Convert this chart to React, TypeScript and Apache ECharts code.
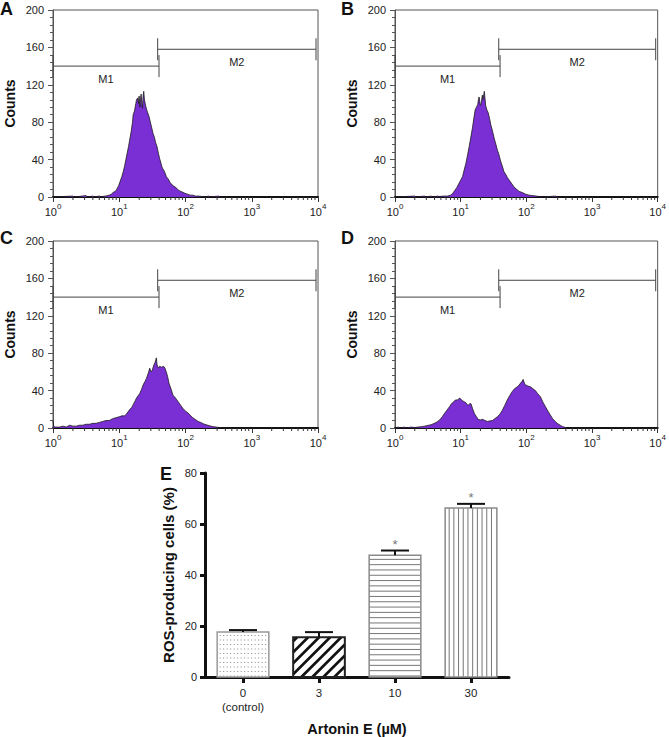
import React, { useEffect, useRef } from "react";
import * as echarts from "echarts";

const FONT = '"Liberation Sans", Arial, Helvetica, sans-serif';

// Histograms: [log10 fluorescence, counts]
const histA: number[][] = [
  [0, 0], [0.3, 1], [0.32, 0], [0.5, 1.5], [0.52, 0], [0.6, 1], [0.62, 0], [0.7, 1], [0.72, 0], [0.78, 1], [0.8, 1],
  [0.85, 2], [0.88, 3], [0.91, 5], [0.94, 6], [0.96, 8], [0.99, 12], [1.01, 16], [1.04, 22], [1.06, 27], [1.08, 33],
  [1.1, 40], [1.12, 47], [1.14, 54], [1.16, 62], [1.18, 70], [1.2, 80], [1.21, 88], [1.23, 92], [1.25, 100], [1.26, 104],
  [1.28, 106], [1.29, 100], [1.3, 108], [1.31, 96], [1.32, 104], [1.33, 110], [1.34, 100], [1.35, 95], [1.36, 108],
  [1.37, 113], [1.38, 104], [1.4, 97], [1.42, 92], [1.43, 90], [1.45, 86], [1.47, 80], [1.49, 74], [1.51, 68], [1.53, 64],
  [1.55, 58], [1.57, 54], [1.59, 47], [1.61, 41], [1.63, 36], [1.65, 31], [1.67, 29], [1.69, 26], [1.71, 22], [1.73, 20],
  [1.75, 18], [1.77, 15], [1.79, 14], [1.81, 12], [1.84, 11], [1.87, 9], [1.9, 7], [1.93, 6], [1.96, 5], [1.99, 4],
  [2.03, 3], [2.07, 2], [2.11, 2], [2.15, 1], [2.2, 1], [2.25, 0.5], [2.3, 0], [2.35, 1], [2.37, 0], [2.5, 1], [2.52, 0], [4, 0],
];
const histB: number[][] = [
  [0, 0], [0.3, 1], [0.32, 0], [0.45, 1], [0.47, 0], [0.55, 1], [0.57, 0], [0.65, 1], [0.67, 0.5], [0.75, 1], [0.8, 1],
  [0.85, 2], [0.88, 4], [0.91, 7], [0.94, 10], [0.97, 14], [1.0, 18], [1.03, 22], [1.05, 28], [1.08, 36], [1.1, 43],
  [1.13, 54], [1.15, 62], [1.18, 74], [1.2, 84], [1.22, 93], [1.24, 96], [1.26, 99], [1.27, 104], [1.28, 107], [1.3, 98],
  [1.31, 99], [1.33, 109], [1.34, 104], [1.36, 113], [1.37, 106], [1.38, 98], [1.4, 93], [1.42, 90], [1.44, 84], [1.46, 77],
  [1.48, 72], [1.51, 63], [1.53, 58], [1.56, 50], [1.58, 46], [1.61, 38], [1.63, 34], [1.66, 27], [1.68, 25], [1.71, 21],
  [1.74, 18], [1.77, 15], [1.81, 11], [1.84, 9], [1.89, 6], [1.93, 5], [1.99, 3], [2.04, 2], [2.09, 1.5], [2.15, 1],
  [2.2, 0.5], [2.25, 0], [2.45, 1], [2.47, 0], [4, 0],
];
const histC: number[][] = [
  [0, 8], [0.01, 2], [0.03, 1], [0.1, 1], [0.15, 2], [0.2, 1], [0.25, 3], [0.3, 2], [0.35, 2], [0.4, 3], [0.45, 3],
  [0.5, 4], [0.55, 4], [0.6, 5], [0.65, 5], [0.7, 6], [0.75, 7], [0.8, 8], [0.85, 8], [0.9, 10], [0.95, 11], [1.0, 12],
  [1.04, 13], [1.08, 13], [1.11, 15], [1.13, 17], [1.16, 20], [1.19, 22], [1.21, 25], [1.24, 29], [1.26, 32], [1.29, 35],
  [1.31, 37], [1.34, 42], [1.36, 46], [1.39, 50], [1.41, 53], [1.44, 59], [1.46, 64], [1.48, 60], [1.5, 62], [1.52, 67],
  [1.54, 70], [1.56, 75], [1.57, 68], [1.59, 64], [1.61, 66], [1.64, 65], [1.67, 66], [1.69, 64], [1.71, 60], [1.73, 55],
  [1.75, 48], [1.77, 44], [1.79, 40], [1.81, 35], [1.84, 33], [1.87, 30], [1.9, 27], [1.93, 24], [1.96, 21], [2.0, 18],
  [2.04, 16], [2.08, 13], [2.11, 11], [2.15, 9], [2.19, 7], [2.23, 6], [2.27, 4.5], [2.31, 3.5], [2.36, 2.5], [2.41, 1.5],
  [2.46, 1], [2.52, 0.4], [2.58, 0], [4, 0],
];
const histD: number[][] = [
  [0, 0], [0.05, 1], [0.07, 0], [0.15, 1], [0.17, 0], [0.25, 1], [0.3, 0.5], [0.35, 1], [0.4, 1.4], [0.45, 2], [0.5, 2.8],
  [0.55, 3.5], [0.6, 5], [0.64, 6.5], [0.68, 8.6], [0.72, 12], [0.755, 15.7], [0.79, 19], [0.83, 22.8], [0.86, 26],
  [0.895, 28], [0.92, 30], [0.956, 30], [0.98, 32], [1.006, 30.7], [1.03, 29], [1.057, 28], [1.08, 27], [1.1, 25],
  [1.117, 24.6], [1.14, 26], [1.157, 26], [1.18, 21], [1.208, 15.7], [1.24, 12], [1.27, 9], [1.3, 8.6], [1.333, 9.3],
  [1.37, 8], [1.409, 7], [1.44, 7.5], [1.484, 8], [1.52, 10], [1.56, 12], [1.6, 15], [1.635, 19], [1.67, 24], [1.71, 30],
  [1.75, 35], [1.786, 39], [1.82, 42], [1.862, 44], [1.89, 46], [1.912, 48], [1.935, 50], [1.952, 52], [1.97, 48],
  [1.987, 46], [2.02, 45], [2.063, 44], [2.1, 42], [2.138, 40], [2.17, 37], [2.214, 33.5], [2.25, 28], [2.29, 23],
  [2.33, 18], [2.365, 14], [2.4, 10], [2.44, 7], [2.48, 4.5], [2.516, 3], [2.55, 1.5], [2.59, 0.7], [2.62, 0], [4, 0],
];
const histograms = [histA, histB, histC, histD];
const panelLetters = ["A", "B", "C", "D"];

// Marker gates (log10 fluorescence range, counts level)
const gateNames = ["M1", "M2"];
const gateFrom = [0, 1.58];
const gateTo = [1.6, 3.97];
const gateLevel = [140, 158];

// Axes
const decades = [0, 1, 2, 3, 4];
const minorMultipliers = [2, 3, 4, 5, 6, 7, 8, 9];
const countMax = 200;
const countStep = 40;

// Panel E
const doseLabels = ["0\n(control)", "3", "10", "30"];
const rosMeans = [17.6, 15.6, 47.7, 66.3];
const rosErrors = [0.8, 2.0, 1.9, 1.6];
const rosMarks = ["", "", "*", "*"];
const rosPatterns = ["dots", "diagonal", "horizontal", "vertical"];

const histGrids = [
  { left: 53, top: 10, width: 265, height: 187 },
  { left: 395, top: 10, width: 265, height: 187 },
  { left: 53, top: 241, width: 265, height: 187 },
  { left: 395, top: 241, width: 265, height: 187 },
];
const letterPos = [
  [0, 0],
  [341, 0],
  [0, 229],
  [341, 229],
];

function buildOption() {
  const minorTickValues: number[] = [];
  decades.slice(0, -1).forEach((d) => minorMultipliers.forEach((k) => minorTickValues.push(d + Math.log10(k))));

  const grids: any[] = histGrids.map((g) => ({ ...g, show: true, borderColor: "#555", borderWidth: 1, backgroundColor: "transparent" }));
  grids.push({ left: 205, top: 473, width: 304, height: 204 });

  const xAxes: any[] = histGrids.map((_, i) => ({
    gridIndex: i,
    type: "value",
    min: decades[0],
    max: decades[decades.length - 1],
    interval: 1,
    axisLine: { show: true, onZero: false, lineStyle: { color: "#111", width: 2 } },
    axisTick: { show: true, length: 5, lineStyle: { color: "#333" } },
    splitLine: { show: false },
    axisLabel: {
      margin: 5,
      formatter: (v: number) => `{b|10}{s|${v}}`,
      rich: {
        b: { fontSize: 11, color: "#222", fontFamily: FONT, lineHeight: 15, verticalAlign: "bottom" },
        s: { fontSize: 8, color: "#222", fontFamily: FONT, lineHeight: 15, verticalAlign: "top" },
      },
    },
  }));
  xAxes.push({
    gridIndex: 4,
    type: "category",
    data: doseLabels,
    axisLine: { show: true, lineStyle: { color: "#111", width: 3 } },
    axisTick: { show: true, alignWithLabel: true, length: 6, lineStyle: { color: "#111", width: 3 } },
    axisLabel: { fontSize: 11.5, color: "#222", margin: 9, lineHeight: 14 },
    name: "Artonin E (\u00b5M)",
    nameLocation: "middle",
    nameGap: 44,
    nameTextStyle: { fontSize: 14.5, fontWeight: "bold", color: "#111" },
  });

  const yAxes: any[] = histGrids.map((_, i) => ({
    gridIndex: i,
    type: "value",
    min: 0,
    max: countMax,
    interval: countStep,
    name: "Counts",
    nameLocation: "middle",
    nameGap: 36,
    nameTextStyle: { fontSize: 14, fontWeight: "bold", color: "#111" },
    axisLine: { show: true, lineStyle: { color: "#555" } },
    axisTick: { show: true, length: 5, lineStyle: { color: "#555" } },
    minorTick: { show: true, splitNumber: 5, length: 3, lineStyle: { color: "#555" } },
    axisLabel: { fontSize: 11, color: "#222", margin: 9 },
    splitLine: { show: false },
  }));
  yAxes.push({
    gridIndex: 4,
    type: "value",
    min: 0,
    max: 80,
    interval: 20,
    name: "ROS-producing cells (%)",
    nameLocation: "middle",
    nameGap: 29,
    nameTextStyle: { fontSize: 15, fontWeight: "bold", color: "#111" },
    axisLine: { show: true, lineStyle: { color: "#111", width: 3 } },
    axisTick: { show: true, length: 5, lineStyle: { color: "#111", width: 3 } },
    axisLabel: { fontSize: 11, color: "#222", margin: 8 },
    splitLine: { show: false },
  });

  const series: any[] = [];
  histograms.forEach((h, i) => {
    series.push({
      type: "line",
      xAxisIndex: i,
      yAxisIndex: i,
      data: h,
      symbol: "none",
      showSymbol: false,
      silent: true,
      lineStyle: { color: "#1a1a1a", width: 0.8 },
      areaStyle: { color: "#7a2fd4", opacity: 1 },
      z: 2,
    });
    series.push({
      type: "custom",
      xAxisIndex: i,
      yAxisIndex: i,
      silent: true,
      clip: false,
      data: minorTickValues.map((v) => [v, 0]),
      renderItem: (_p: any, api: any) => {
        const p = api.coord([api.value(0), 0]);
        return {
          type: "line",
          shape: { x1: p[0], y1: p[1], x2: p[0], y2: p[1] + 3 },
          style: { stroke: "#333", lineWidth: 1 },
        };
      },
      z: 3,
    });
    series.push({
      type: "custom",
      xAxisIndex: i,
      yAxisIndex: i,
      silent: true,
      clip: false,
      data: gateNames.map((_, k) => [gateFrom[k], gateTo[k], gateLevel[k]]),
      renderItem: (params: any, api: any) => {
        const a = api.coord([api.value(0), api.value(2)]);
        const b = api.coord([api.value(1), api.value(2)]);
        const st = { stroke: "#444", lineWidth: 1 };
        return {
          type: "group",
          children: [
            { type: "line", shape: { x1: a[0], y1: a[1], x2: b[0], y2: b[1] }, style: st },
            { type: "line", shape: { x1: a[0], y1: a[1] - 11, x2: a[0], y2: a[1] + 11 }, style: st },
            { type: "line", shape: { x1: b[0], y1: b[1] - 11, x2: b[0], y2: b[1] + 11 }, style: st },
            {
              type: "text",
              style: {
                text: gateNames[params.dataIndex],
                x: (a[0] + b[0]) / 2,
                y: a[1] + 13,
                align: "center",
                verticalAlign: "middle",
                fontSize: 11,
                fontFamily: FONT,
                fill: "#222",
              },
            },
          ],
        };
      },
      z: 4,
    });
  });

  series.push({
    type: "custom",
    xAxisIndex: 4,
    yAxisIndex: 4,
    silent: true,
    clip: false,
    data: rosMeans.map((m, i) => [i, m, rosErrors[i]]),
    renderItem: (params: any, api: any) => {
      const idx = api.value(0);
      const mean = api.value(1);
      const err = api.value(2);
      const top = api.coord([idx, mean]);
      const base = api.coord([idx, 0]);
      const errTop = api.coord([idx, mean + err])[1];
      const bw = api.size([1, 0])[0] * 0.68;
      const cx = top[0];
      const x0 = cx - bw / 2;
      const x1 = cx + bw / 2;
      const y0 = top[1];
      const y1 = base[1];
      const kind = rosPatterns[params.dataIndex];
      const children: any[] = [];
      children.push({ type: "rect", shape: { x: x0, y: y0, width: bw, height: y1 - y0 }, style: { fill: "#fff" } });
      let border = "#8a8a8a";
      let borderW = 1.5;
      if (kind === "dots") {
        for (let y = y0 + 3; y < y1 - 1; y += 4.5) {
          for (let x = x0 + 2.5; x < x1 - 1; x += 3.5) {
            children.push({ type: "rect", shape: { x, y, width: 1, height: 1 }, style: { fill: "#888" } });
          }
        }
        border = "#999";
      } else if (kind === "diagonal") {
        const s = 11;
        for (let c = x0 + y0 + 4; c < x1 + y1; c += s) {
          const sx = Math.max(x0, c - y1);
          const ex = Math.min(x1, c - y0);
          if (ex > sx) {
            children.push({
              type: "line",
              shape: { x1: sx, y1: c - sx, x2: ex, y2: c - ex },
              style: { stroke: "#111", lineWidth: 2.6 },
            });
          }
        }
        border = "#222";
        borderW = 2;
      } else if (kind === "horizontal") {
        for (let y = y0 + 4; y < y1 - 1; y += 5.3) {
          children.push({ type: "line", shape: { x1: x0, y1: y, x2: x1, y2: y }, style: { stroke: "#777", lineWidth: 1 } });
        }
      } else {
        for (let x = x0 + 4; x < x1 - 1; x += 4.7) {
          children.push({ type: "line", shape: { x1: x, y1: y0, x2: x, y2: y1 }, style: { stroke: "#777", lineWidth: 1 } });
        }
      }
      children.push({
        type: "rect",
        shape: { x: x0, y: y0, width: bw, height: y1 - y0 },
        style: { fill: "none", stroke: border, lineWidth: borderW },
      });
      children.push({ type: "line", shape: { x1: cx, y1: y0, x2: cx, y2: errTop }, style: { stroke: "#111", lineWidth: 2 } });
      children.push({ type: "line", shape: { x1: cx - 14, y1: errTop, x2: cx + 14, y2: errTop }, style: { stroke: "#111", lineWidth: 2 } });
      if (rosMarks[params.dataIndex]) {
        children.push({
          type: "text",
          style: {
            text: rosMarks[params.dataIndex],
            x: cx,
            y: errTop - 6,
            align: "center",
            verticalAlign: "middle",
            fontSize: 13,
            fontFamily: FONT,
            fill: "#777",
          },
        });
      }
      return { type: "group", children };
    },
    z: 3,
  });

  const graphic: any[] = panelLetters.map((l, i) => ({
    type: "text",
    left: letterPos[i][0],
    top: letterPos[i][1],
    style: { text: l, fontSize: 18, fontWeight: "bold", fontFamily: FONT, fill: "#111" },
  }));
  graphic.push({
    type: "text",
    left: 160,
    top: 465,
    style: { text: "E", fontSize: 18, fontWeight: "bold", fontFamily: FONT, fill: "#111" },
  });

  return {
    animation: false,
    backgroundColor: "#fff",
    textStyle: { fontFamily: FONT },
    grid: grids,
    xAxis: xAxes,
    yAxis: yAxes,
    series,
    graphic,
  };
}

export default function App() {
  const ref = useRef<HTMLDivElement>(null);
  useEffect(() => {
    if (!ref.current) return;
    const chart = echarts.init(ref.current, undefined, { renderer: "svg" });
    chart.setOption(buildOption());
    return () => chart.dispose();
  }, []);
  return <div ref={ref} style={{ position: "absolute", left: 0, top: 0, width: 669, height: 737 }} />;
}
